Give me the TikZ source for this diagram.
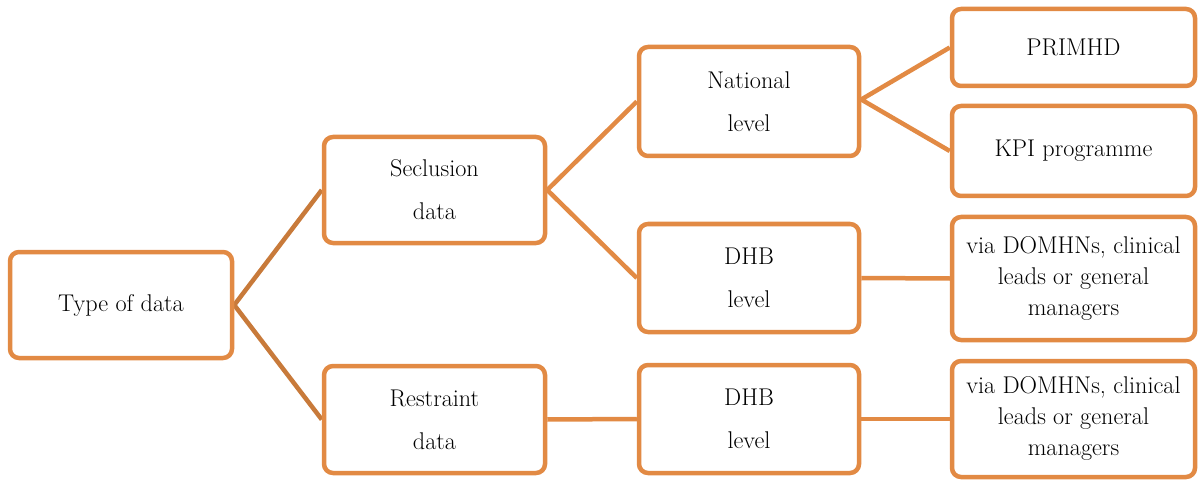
\documentclass[tikz,border=0pt]{standalone}
\usetikzlibrary{backgrounds}
\definecolor{boxorange}{RGB}{226,138,68}
\definecolor{darkorange}{RGB}{200,122,58}
\begin{document}
\begin{tikzpicture}[x=1pt,y=-1pt,
  box/.style={draw=boxorange,line width=4.5pt,rounded corners=9pt,fill=white,
    align=center,inner sep=0pt,font=\fontsize{24.2}{31}\selectfont},
  link/.style={draw=boxorange,line width=4.5pt},
  darklink/.style={draw=darkorange,line width=4.5pt}]
\useasboundingbox (0,0) rectangle (1199,481);
\newcommand{\bx}[6]{\node[box,minimum width=#4-#2,minimum height=#5-#3] (#1) at ({(#2+#4)/2},{(#3+#5)/2}) {#6};}
\bx{type}{10}{252}{232}{358}{Type of data}
\bx{secl}{324}{137}{545}{243}{Seclusion\\[12pt]data}
\bx{rest}{324}{366}{545}{473}{Restraint\\[12pt]data}
\bx{nat}{639}{47}{859}{156}{National\\[12pt]level}
\bx{dhba}{639}{224}{859}{332}{DHB\\[12pt]level}
\bx{dhbb}{639}{365}{859}{473}{DHB\\[12pt]level}
\bx{prim}{952}{9}{1195}{86}{PRIMHD}
\bx{kpi}{952}{106}{1195}{196}{KPI programme}
\bx{viaa}{952}{217}{1195}{340}{via DOMHNs, clinical\\leads or general\\managers}
\bx{viab}{952}{361}{1195}{477}{via DOMHNs, clinical\\leads or general\\managers}
\begin{scope}[on background layer]
\draw[darklink] (secl.west) -- (type.east) -- (rest.west);
\draw[link] (nat.west) -- (secl.east) -- (dhba.west);
\draw[link] (rest.east) -- (dhbb.west);
\draw[link] (prim.west) -- ([yshift=2pt]nat.east) -- (kpi.west);
\draw[link] (dhba.east) -- (viaa.west);
\draw[link] (dhbb.east) -- (viab.west);
\end{scope}
\end{tikzpicture}
\end{document}
